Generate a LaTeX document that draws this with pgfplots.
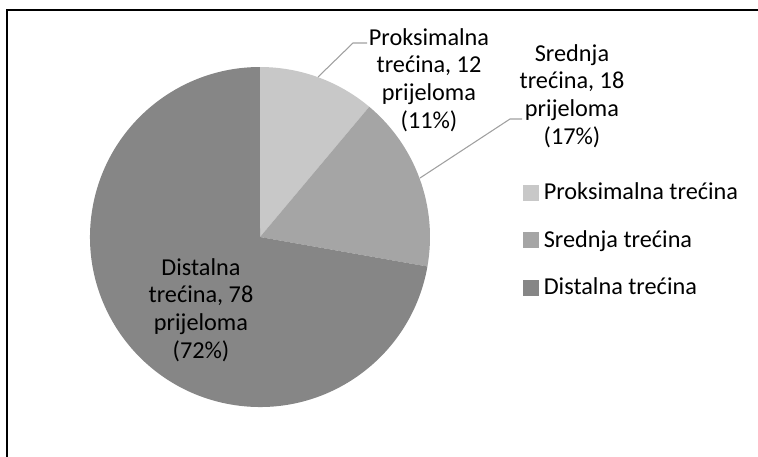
\documentclass[border=0pt]{standalone}
\usepackage{pgfplots}
\usepackage{pgfplotstable}
\pgfplotsset{compat=1.18}
\usepackage{fontspec}
\setmainfont{Carlito}

\definecolor{prox}{RGB}{200,200,200}
\definecolor{mid}{RGB}{165,165,165}
\definecolor{dist}{RGB}{134,134,134}
\definecolor{leader}{RGB}{160,160,160}

% broj prijeloma po trecini
\pgfplotstableread{
dio n
Proksimalna 12
Srednja 18
Distalna 78
}\pietable

\newcommand{\lblfont}{\fontsize{18.2}{20.8}\selectfont}

\begin{document}
\begin{tikzpicture}
\pgfplotstablegetelem{0}{n}\of\pietable \let\nA\pgfplotsretval
\pgfplotstablegetelem{1}{n}\of\pietable \let\nB\pgfplotsretval
\pgfplotstablegetelem{2}{n}\of\pietable \let\nC\pgfplotsretval
\pgfmathsetmacro{\tot}{\nA+\nB+\nC}
\pgfmathsetmacro{\aA}{90}
\pgfmathsetmacro{\aB}{\aA-360*(\nA/\tot)}
\pgfmathsetmacro{\aC}{\aB-360*(\nB/\tot)}
\pgfmathsetmacro{\aD}{\aC-360*(\nC/\tot)}
\def\R{127.5pt}
\begin{axis}[
    width=568.5pt, height=342.75pt, scale only axis,
    xmin=0, xmax=758, ymin=0, ymax=457, y dir=reverse,
    hide axis, clip=false,
    legend style={at={(axis cs:523,240)}, anchor=west, draw=none, fill=none,
        inner sep=0pt, row sep=21.5pt, column sep=0pt,
        font=\lblfont, nodes={inner sep=0pt, anchor=west}},
    legend cell align=left,
]
\fill[prox] (axis cs:260,237) -- ++(\aA:\R) arc[start angle=\aA, end angle=\aB, radius=\R] -- cycle;
\fill[mid] (axis cs:260,237) -- ++(\aB:\R) arc[start angle=\aB, end angle=\aC, radius=\R] -- cycle;
\fill[dist] (axis cs:260,237) -- ++(\aC:\R) arc[start angle=\aC, end angle=\aD, radius=\R] -- cycle;

% okvir
\draw[black, line width=1.5pt] (axis cs:7,460) -- (axis cs:7,10) -- (axis cs:760,10);

% vodilice
\draw[leader, line width=0.8pt] (axis cs:318,77) -- (axis cs:353,43) -- (axis cs:367,43);
\draw[leader, line width=0.8pt] (axis cs:420,178) -- (axis cs:510,119) -- (axis cs:522,119);

\node[align=center, inner sep=0pt, font=\lblfont] at (axis cs:429,80) {Proksimalna\\trećina, 12\\prijeloma\\(11\%)};
\node[align=center, inner sep=0pt, font=\lblfont] at (axis cs:572,96) {Srednja\\trećina, 18\\prijeloma\\(17\%)};
\node[align=center, inner sep=0pt, font=\lblfont] at (axis cs:201,310) {Distalna\\trećina, 78\\prijeloma\\(72\%)};

\addlegendimage{legend image code/.code={\fill[prox] (0pt,-5.6pt) rectangle (11.25pt,5.6pt);}}
\addlegendentry{\hspace{3.75pt}Proksimalna trećina}
\addlegendimage{legend image code/.code={\fill[mid] (0pt,-5.6pt) rectangle (11.25pt,5.6pt);}}
\addlegendentry{\hspace{3.75pt}Srednja trećina}
\addlegendimage{legend image code/.code={\fill[dist] (0pt,-5.6pt) rectangle (11.25pt,5.6pt);}}
\addlegendentry{\hspace{3.75pt}Distalna trećina}
\end{axis}
\pgfresetboundingbox
\path[use as bounding box] (current axis.south west) rectangle (current axis.north east);
\end{tikzpicture}
\end{document}
